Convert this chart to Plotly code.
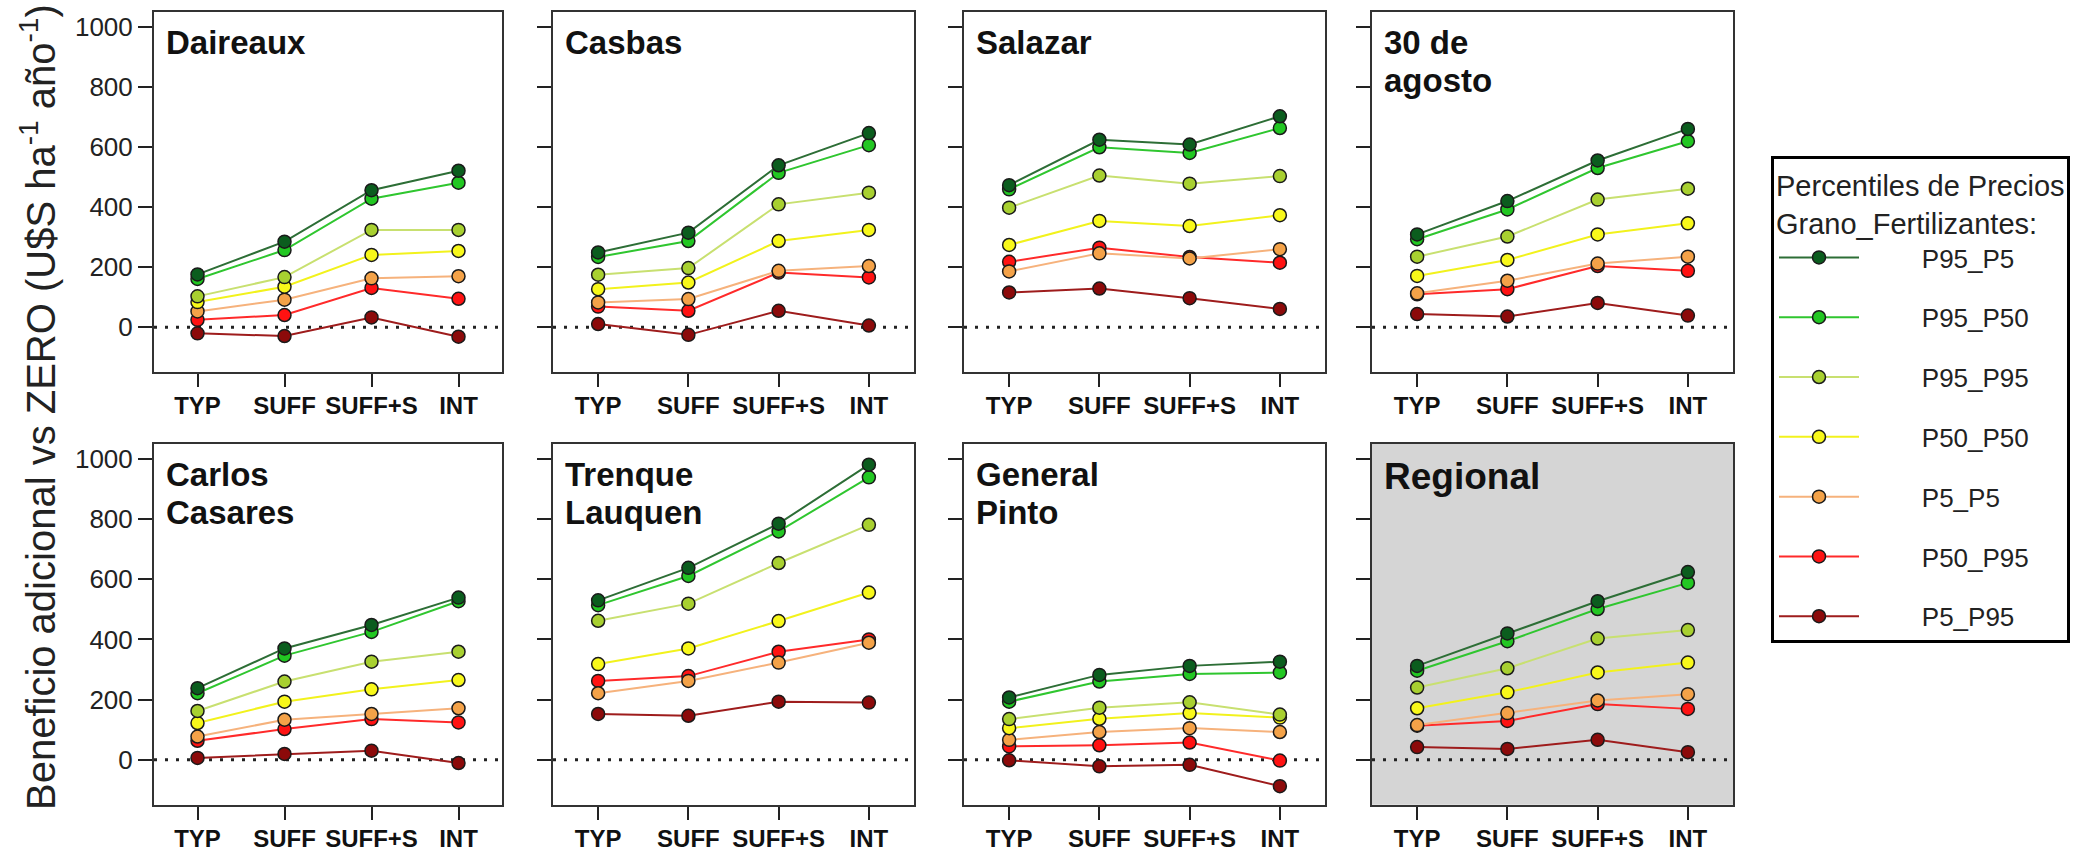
import plotly.graph_objects as go

# Management scenarios on the x axis
categories = ["TYP", "SUFF", "SUFF+S", "INT"]

# Grain/fertilizer price percentile combinations (legend order)
series_names = ["P95_P5", "P95_P50", "P95_P95", "P50_P50", "P5_P5", "P50_P95", "P5_P95"]
marker_colors = ["#0b5d1e", "#22c722", "#a8d030", "#f8f81a", "#f4a248", "#ff1212", "#8c0a0a"]
line_colors = ["#2d6e36", "#2fc62f", "#c8e070", "#f2f21c", "#f6b27c", "#ff2a2a", "#9e1c1c"]

# Additional profit vs ZERO (U$S/ha/yr); rows follow series_names order
daireaux = [
    [176, 285, 456, 521],
    [161, 257, 428, 481],
    [103, 167, 324, 324],
    [84, 135, 241, 254],
    [53, 92, 163, 170],
    [25, 41, 131, 95],
    [-20, -29, 33, -31],
]
casbas = [
    [249, 315, 539, 646],
    [234, 287, 514, 606],
    [175, 197, 409, 448],
    [127, 149, 287, 324],
    [83, 94, 188, 204],
    [69, 55, 182, 166],
    [11, -25, 55, 6],
]
salazar = [
    [473, 624, 608, 702],
    [459, 599, 580, 663],
    [398, 505, 478, 503],
    [274, 354, 337, 373],
    [186, 246, 229, 260],
    [218, 265, 234, 215],
    [116, 129, 97, 61],
]
treinta_de_agosto = [
    [309, 420, 555, 660],
    [293, 392, 530, 619],
    [235, 302, 425, 461],
    [171, 224, 309, 346],
    [113, 155, 212, 235],
    [110, 127, 204, 188],
    [44, 36, 81, 39],
]
carlos_casares = [
    [238, 370, 448, 539],
    [221, 346, 425, 527],
    [162, 260, 326, 359],
    [122, 193, 234, 265],
    [77, 133, 152, 171],
    [63, 102, 135, 124],
    [6, 19, 30, -11],
]
trenque_lauquen = [
    [530, 638, 785, 981],
    [514, 611, 759, 939],
    [462, 519, 654, 781],
    [318, 370, 461, 556],
    [221, 262, 323, 389],
    [262, 278, 359, 400],
    [152, 146, 193, 190],
]
general_pinto = [
    [207, 282, 312, 326],
    [193, 260, 285, 290],
    [135, 173, 191, 150],
    [105, 136, 155, 140],
    [66, 92, 105, 92],
    [44, 48, 57, -3],
    [-2, -22, -17, -88],
]
regional = [
    [312, 420, 527, 624],
    [296, 394, 501, 588],
    [240, 304, 403, 431],
    [171, 224, 290, 323],
    [115, 155, 197, 218],
    [113, 129, 185, 169],
    [42, 36, 66, 25],
]

panel_titles = [
    ["Daireaux"], ["Casbas"], ["Salazar"], ["30 de", "agosto"],
    ["Carlos", "Casares"], ["Trenque", "Lauquen"], ["General", "Pinto"], ["Regional"],
]
panel_data = [daireaux, casbas, salazar, treinta_de_agosto,
              carlos_casares, trenque_lauquen, general_pinto, regional]

y_ticks = [0, 200, 400, 600, 800, 1000]

W, H = 2082, 852
FONT = "Liberation Sans, Arial, sans-serif"
INK = "#222222"
LEGEND_PAD = "\u00a0" * 8  # gap between legend symbol and label

# Panel frames in pixels: columns (left, right) and rows (top, bottom)
col_px = [(154, 502), (553, 914), (964, 1325), (1372, 1733)]
row_px = [(11.7, 373.3), (445, 806.7)]

fig = go.Figure()
layout = dict(
    width=W, height=H,
    margin=dict(l=0, r=0, t=0, b=0),
    paper_bgcolor="white", plot_bgcolor="white",
    font=dict(family=FONT, color=INK),
    showlegend=True,
)
annotations = []
shapes = []

for p, (rows, title_lines) in enumerate(zip(panel_data, panel_titles)):
    r, c = divmod(p, 4)
    n = "" if p == 0 else str(p + 1)
    xa, ya = "x" + n, "y" + n
    x0, x1 = col_px[c]
    t0, t1 = row_px[r]

    layout["xaxis" + n] = dict(
        domain=[x0 / W, x1 / W], anchor=ya, type="category",
        categoryorder="array", categoryarray=categories,
        range=[-0.5, 3.5], showgrid=False, zeroline=False,
        showline=True, mirror=True, linecolor="#333333", linewidth=2,
        ticks="outside", ticklen=13, tickwidth=2, tickcolor=INK,
        ticklabelstandoff=-2,
        tickfont=dict(size=24, weight="bold", color="#111111", family=FONT),
        fixedrange=True,
    )
    layout["yaxis" + n] = dict(
        domain=[1 - t1 / H, 1 - t0 / H], anchor=xa,
        range=[-150, 1050], tickvals=y_ticks, showgrid=False, zeroline=False,
        showline=True, mirror=True, linecolor="#333333", linewidth=2,
        ticks="outside", ticklen=14, tickwidth=2, tickcolor=INK,
        showticklabels=(c == 0),
        tickfont=dict(size=26, color=INK, family=FONT),
        fixedrange=True,
    )

    if p == 7:
        # shaded background for the regional summary
        shapes.append(dict(
            type="rect", xref=xa + " domain", yref=ya + " domain",
            x0=0, x1=1, y0=0, y1=1, fillcolor="#d5d5d5",
            line=dict(width=0), layer="below",
        ))
    # dotted reference line at zero
    shapes.append(dict(
        type="line", xref=xa + " domain", yref=ya, x0=0, x1=1, y0=0, y1=0,
        line=dict(color=INK, width=3, dash="3px,8px"), layer="below",
    ))

    # panel title, one annotation per line
    size = 37 if p == 7 else 33
    for k, line in enumerate(title_lines):
        annotations.append(dict(
            text="<b>" + line + "</b>", xref=xa + " domain", yref=ya + " domain",
            x=0, y=1, xanchor="left", yanchor="top", xshift=10,
            yshift=-10 - 38.5 * k, showarrow=False,
            font=dict(size=size, color="#111111", family=FONT),
        ))

    # draw last series first so the first legend entry sits on top
    for i in reversed(range(len(series_names))):
        fig.add_trace(go.Scatter(
            x=categories, y=rows[i], xaxis=xa, yaxis=ya,
            mode="lines+markers", name=LEGEND_PAD + series_names[i],
            legendgroup=series_names[i], legendrank=i + 1,
            showlegend=(p == 0),
            line=dict(color=line_colors[i], width=2),
            marker=dict(size=13, color=marker_colors[i],
                        line=dict(color="#1a1a1a", width=1.5)),
            hovertemplate="%{x}: %{y}<extra>" + series_names[i] + "</extra>",
        ))

annotations.append(dict(
    text="Beneficio adicional vs ZERO (U$S ha<sup>-1</sup> año<sup>-1</sup>)",
    xref="paper", yref="paper", x=38 / W, y=1 - 408 / H,
    xanchor="center", yanchor="middle", textangle=-90, showarrow=False,
    font=dict(size=40, color=INK, family=FONT),
))

layout["annotations"] = annotations
layout["shapes"] = shapes
layout["legend"] = dict(
    x=1771 / W, y=1 - 156 / H, xanchor="left", yanchor="top",
    bgcolor="white", bordercolor="black", borderwidth=3,
    font=dict(size=26, color=INK, family=FONT),
    title=dict(text="Percentiles de Precios<br>Grano_Fertilizantes:",
               font=dict(size=29, color=INK, family=FONT)),
    traceorder="grouped", tracegroupgap=23, itemwidth=80,
    itemsizing="trace",
)

fig.update_layout(**layout)
fig.write_html("out.html")
